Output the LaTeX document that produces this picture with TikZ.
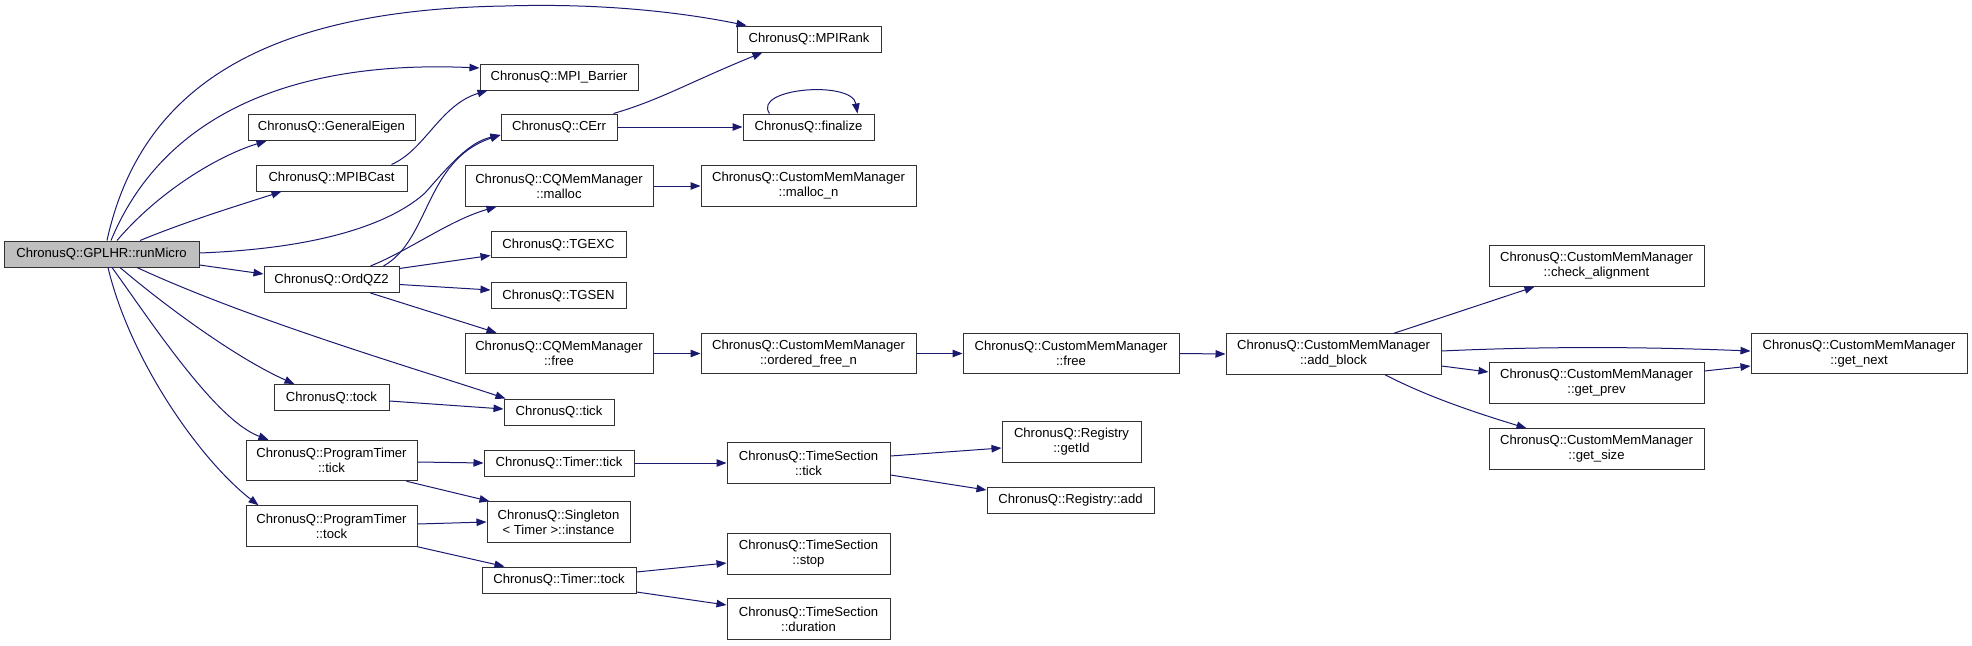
\documentclass[tikz,border=0pt]{standalone}
\usepackage{fontspec}
\setmainfont{Liberation Sans}
\usetikzlibrary{arrows.meta}
\definecolor{edgeblue}{RGB}{25,25,112}
\definecolor{boxline}{RGB}{50,50,50}
\definecolor{rootfill}{RGB}{191,191,191}
\begin{document}
\begin{tikzpicture}[x=1pt,y=-1pt,
  box/.style={draw=boxline, fill=white, line width=1pt, inner sep=0pt, align=center,
    font=\fontsize{13.1}{15}\selectfont, minimum height=26pt},
  box2/.style={box, minimum height=40.5pt},
  rootbox/.style={box, fill=rootfill},
  edge/.style={draw=edgeblue, line width=1pt, -{Triangle[length=10pt,width=7.5pt]}, fill=none},
]
\useasboundingbox (0,0) rectangle (1972,645);

% nodes
\node[rootbox, minimum width=195pt] (rm) at (101.5,254) {ChronusQ::GPLHR::runMicro};
\node[box, minimum width=144pt] (mpirank) at (809,39) {ChronusQ::MPIRank};
\node[box, minimum width=158pt] (barrier) at (559,77) {ChronusQ::MPI\_Barrier};
\node[box, minimum width=167pt] (geneig) at (331.5,127.5) {ChronusQ::GeneralEigen};
\node[box, minimum width=151pt] (bcast) at (331.5,178) {ChronusQ::MPIBCast};
\node[box, minimum width=116pt] (cerr) at (559,127) {ChronusQ::CErr};
\node[box, minimum width=131pt] (finalize) at (808.5,127) {ChronusQ::finalize};
\node[box2, minimum width=188pt] (malloc) at (559,186) {ChronusQ::CQMemManager\\::malloc};
\node[box2, minimum width=215pt] (mallocn) at (808.5,186) {ChronusQ::CustomMemManager\\::malloc\_n};
\node[box, minimum width=135pt] (ordqz) at (331.5,279.5) {ChronusQ::OrdQZ2};
\node[box, minimum width=135pt] (tgexc) at (558.5,244.5) {ChronusQ::TGEXC};
\node[box, minimum width=135pt] (tgsen) at (558.5,295.5) {ChronusQ::TGSEN};
\node[box2, minimum width=188pt] (cqfree) at (559,353.5) {ChronusQ::CQMemManager\\::free};
\node[box2, minimum width=215pt] (ofree) at (808.5,353.5) {ChronusQ::CustomMemManager\\::ordered\_free\_n};
\node[box2, minimum width=216pt] (cmfree) at (1071,353.5) {ChronusQ::CustomMemManager\\::free};
\node[box2, minimum width=215pt] (addblock) at (1333.5,354) {ChronusQ::CustomMemManager\\::add\_block};
\node[box2, minimum width=215pt] (checkal) at (1596.5,266) {ChronusQ::CustomMemManager\\::check\_alignment};
\node[box2, minimum width=215pt] (getprev) at (1596.5,383) {ChronusQ::CustomMemManager\\::get\_prev};
\node[box2, minimum width=215pt] (getsize) at (1596.5,449) {ChronusQ::CustomMemManager\\::get\_size};
\node[box2, minimum width=216pt] (getnext) at (1859,353.5) {ChronusQ::CustomMemManager\\::get\_next};
\node[box, minimum width=115pt] (tock) at (331.5,397.5) {ChronusQ::tock};
\node[box, minimum width=110pt] (tick) at (559,412) {ChronusQ::tick};
\node[box2, minimum width=171pt] (ptick) at (331.5,460.5) {ChronusQ::ProgramTimer\\::tick};
\node[box, minimum width=150pt] (ttick) at (559,463) {ChronusQ::Timer::tick};
\node[box2, minimum width=143pt] (single) at (558.5,522) {ChronusQ::Singleton\\< Timer >::instance};
\node[box2, minimum width=171pt] (ptock) at (331.5,526) {ChronusQ::ProgramTimer\\::tock};
\node[box, minimum width=154pt] (ttock) at (559,580) {ChronusQ::Timer::tock};
\node[box2, minimum width=163pt] (tstick) at (808.5,463) {ChronusQ::TimeSection\\::tick};
\node[box2, minimum width=139pt] (getid) at (1071.5,442) {ChronusQ::Registry\\::getId};
\node[box, minimum width=167pt] (regadd) at (1070.5,500.5) {ChronusQ::Registry::add};
\node[box2, minimum width=163pt] (tsstop) at (808.5,554) {ChronusQ::TimeSection\\::stop};
\node[box2, minimum width=163pt] (tsdur) at (808.5,619) {ChronusQ::TimeSection\\::duration};

% edges from runMicro
\draw[edge] ([shift={(5.5,0)}]rm.north) .. controls (140,90) and (260,10) .. (505,6)
   .. controls (600,3) and (680,12) .. ([shift={(10,0)}]mpirank.north west);
\draw[edge] ([shift={(9.5,0)}]rm.north) .. controls (165,110) and (300,60) .. ([shift={(0,-9)}]barrier.west);
\draw[edge] ([shift={(15.5,0)}]rm.north) .. controls (160,190) and (220,155) .. ([shift={(19,0)}]geneig.south west);
\draw[edge] ([shift={(38.5,0)}]rm.north) .. controls (190,220) and (240,205) .. ([shift={(26,0)}]bcast.south west);
\draw[edge] ([shift={(0,-1)}]rm.east) .. controls (330,248) and (395,220) .. (425,193)
   .. controls (452,162) and (470,142) .. ([shift={(0,8)}]cerr.west);
\draw[edge] ([shift={(0,11)}]rm.east) -- ([shift={(0,-5.5)}]ordqz.west);
\draw[edge] ([shift={(18.5,0)}]rm.south) .. controls (170,310) and (240,360) .. ([shift={(21,0)}]tock.north west);
\draw[edge] ([shift={(35.5,0)}]rm.south) .. controls (250,320) and (420,370) .. ([shift={(2,0)}]tick.north west);
\draw[edge] ([shift={(10.5,0)}]rm.south) .. controls (150,320) and (215,420) .. ([shift={(23,0)}]ptick.north west);
\draw[edge] ([shift={(6.5,0)}]rm.south) .. controls (130,360) and (200,460) .. ([shift={(13,0)}]ptock.north west);

% other edges
\draw[edge] ([shift={(-16,0)}]bcast.north east) .. controls (425,150) and (440,105) .. ([shift={(8,0)}]barrier.south west);
\draw[edge] ([shift={(-4,0)}]cerr.north east) .. controls (660,100) and (690,82) .. ([shift={(26,0)}]mpirank.south west);
\draw[edge] (cerr.east) -- (finalize.west);
\draw[edge] ([shift={(27,0)}]finalize.north west) .. controls (752,88) and (852,80) .. ([shift={(115,0)}]finalize.north west);
\draw[edge] ([shift={(-16,0)}]ordqz.north east) .. controls (430,240) and (425,160) .. ([shift={(0,8)}]cerr.west);
\draw[edge] ([shift={(-29,0)}]ordqz.north east) .. controls (410,250) and (450,220) .. ([shift={(32,0)}]malloc.south west);
\draw[edge] ([shift={(0,-11)}]ordqz.east) -- ([shift={(0,11)}]tgexc.west);
\draw[edge] ([shift={(0,5)}]ordqz.east) -- ([shift={(0,-5.5)}]tgsen.west);
\draw[edge] ([shift={(-29,0)}]ordqz.south east) -- ([shift={(32,0)}]cqfree.north west);
\draw[edge] (malloc.east) -- (mallocn.west);
\draw[edge] (cqfree.east) -- (ofree.west);
\draw[edge] (ofree.east) -- (cmfree.west);
\draw[edge] (cmfree.east) -- (addblock.west);
\draw[edge] ([shift={(60.5,0)}]addblock.north) -- ([shift={(46,0)}]checkal.south west);
\draw[edge] ([shift={(0,-3)}]addblock.east) .. controls (1550,346) and (1650,347) .. ([shift={(0,-2.5)}]getnext.west);
\draw[edge] ([shift={(0,12)}]addblock.east) -- ([shift={(0,-11)}]getprev.west);
\draw[edge] ([shift={(51.5,0)}]addblock.south) .. controls (1430,398) and (1480,414) .. ([shift={(38,0)}]getsize.north west);
\draw[edge] ([shift={(0,-12)}]getprev.east) -- ([shift={(0,12.5)}]getnext.west);
\draw[edge] ([shift={(0,3.5)}]tock.east) -- ([shift={(0,-3)}]tick.west);
\draw[edge] ([shift={(0,1.5)}]ptick.east) -- (ttick.west);
\draw[edge] ([shift={(-11,0)}]ptick.south east) -- ([shift={(3,0)}]single.north west);
\draw[edge] ([shift={(0,-2)}]ptock.east) -- (single.west);
\draw[edge] (ptock.south east) -- ([shift={(23,0)}]ttock.north west);
\draw[edge] (ttick.east) -- (tstick.west);
\draw[edge] ([shift={(0,-7)}]tstick.east) -- ([shift={(0,6)}]getid.west);
\draw[edge] ([shift={(0,12)}]tstick.east) -- ([shift={(0,-10.5)}]regadd.west);
\draw[edge] ([shift={(0,-8)}]ttock.east) -- ([shift={(0,9)}]tsstop.west);
\draw[edge] ([shift={(0,12)}]ttock.east) -- ([shift={(0,-14)}]tsdur.west);
\end{tikzpicture}
\end{document}
